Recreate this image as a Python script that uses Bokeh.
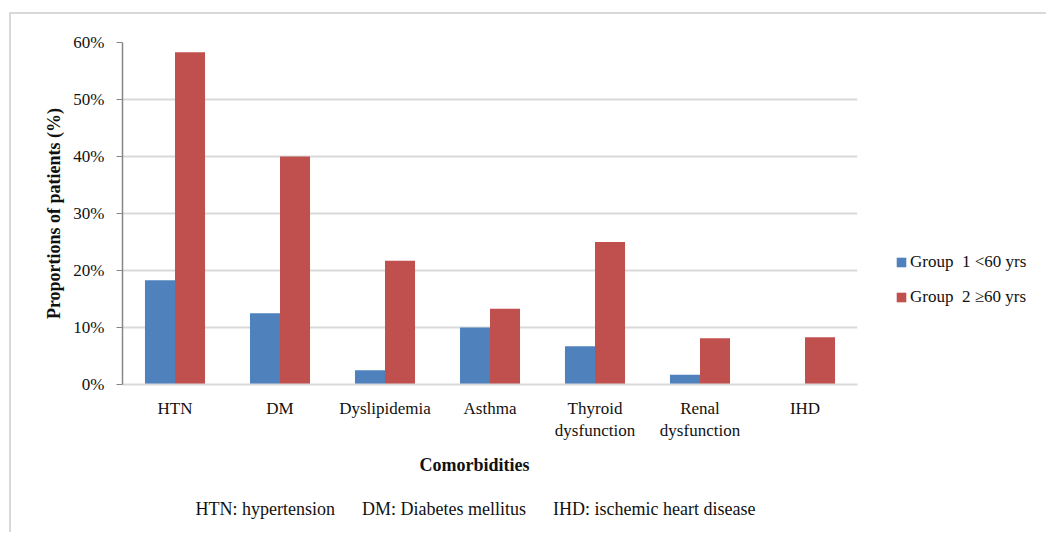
from bokeh.plotting import figure
from bokeh.models import (ColumnDataSource, FactorRange, Legend, LegendItem, Title,
                          NumeralTickFormatter, FixedTicker)
from bokeh.transform import dodge
from bokeh.embed import file_html
from bokeh.resources import INLINE

categories = ["HTN", "DM", "Dyslipidemia", "Asthma", "Thyroid\ndysfunction",
              "Renal\ndysfunction", "IHD"]
group1 = [0.183, 0.125, 0.025, 0.100, 0.067, 0.017, 0.0]
group2 = [0.583, 0.400, 0.217, 0.133, 0.250, 0.081, 0.083]
series_names = ["Group  1 <60 yrs", "Group  2 \u226560 yrs"]
y_ticks = [0, 0.1, 0.2, 0.3, 0.4, 0.5, 0.6]
GAP = "\u00a0" * 6
footnote = "HTN: hypertension" + GAP + "DM: Diabetes mellitus" + GAP + "IHD: ischemic heart disease"
x_title = "Comorbidities"
y_title = "Proportions of patients (%)"

SERIF = "Liberation Serif"
BLUE = "#4F81BD"
RED = "#C0504D"

src = ColumnDataSource(dict(cat=categories, g1=group1, g2=group2))

p = figure(x_range=FactorRange(*categories, range_padding=0), y_range=(0, 0.6),
           width=1030, height=518, output_backend="svg", toolbar_location=None,
           min_border_left=111, min_border_right=184, min_border_top=28,
           min_border_bottom=148)
p.frame_width = 735
p.frame_height = 342
p.outline_line_color = None
p.background_fill_color = "white"
p.border_fill_color = "white"
p.styles = {"margin-left": "9px", "margin-top": "12px",
            "border-top": "2px solid #d9d9d9", "border-left": "2px solid #d9d9d9"}

bw = 0.286
r1 = p.vbar(x=dodge("cat", -bw / 2, range=p.x_range), top="g1", width=bw, source=src,
            fill_color=BLUE, line_color=None)
r2 = p.vbar(x=dodge("cat", bw / 2, range=p.x_range), top="g2", width=bw, source=src,
            fill_color=RED, line_color=None)

# grid
p.xgrid.grid_line_color = None
p.ygrid.grid_line_color = "#d9d9d9"
p.ygrid.grid_line_width = 2
p.yaxis.ticker = FixedTicker(ticks=y_ticks)
p.yaxis.formatter = NumeralTickFormatter(format="0%")

# axes
p.yaxis.axis_line_color = "#868686"
p.yaxis.axis_line_width = 1.5
p.yaxis.major_tick_line_color = "#868686"
p.yaxis.major_tick_out = 6
p.yaxis.major_tick_in = 0
p.yaxis.minor_tick_line_color = None
p.yaxis.major_label_text_font = SERIF
p.yaxis.major_label_text_font_size = "17px"
p.yaxis.major_label_text_color = "#111111"
p.yaxis.major_label_standoff = 12
p.yaxis.axis_label = y_title
p.yaxis.axis_label_text_font = SERIF
p.yaxis.axis_label_text_font_style = "bold"
p.yaxis.axis_label_text_font_size = "18px"
p.yaxis.axis_label_text_color = "#111111"
p.yaxis.axis_label_standoff = 6

p.xaxis.axis_line_color = "#d9d9d9"
p.xaxis.axis_line_width = 2
p.xaxis.major_tick_line_color = None
p.xaxis.minor_tick_line_color = None
p.xaxis.major_label_text_font = SERIF
p.xaxis.major_label_text_font_size = "17px"
p.xaxis.major_label_text_color = "#111111"
p.xaxis.major_label_standoff = 8

# legend
legend = Legend(items=[LegendItem(label=series_names[0], renderers=[r1]),
                       LegendItem(label=series_names[1], renderers=[r2])],
                location=(38, 77), orientation="vertical")
legend.border_line_color = None
legend.background_fill_alpha = 0
legend.padding = 0
legend.margin = 0
legend.spacing = 15
legend.glyph_width = 12
legend.glyph_height = 12
legend.label_height = 20
legend.label_standoff = 3
legend.label_text_font = SERIF
legend.label_text_font_size = "17px"
legend.label_text_color = "#111111"
p.add_layout(legend, "right")

# x title and footnote below the axis
p.add_layout(Title(text=x_title, align="left", text_font=SERIF,
                   text_font_size="18px", text_font_style="bold",
                   text_color="#111111", standoff=19, offset=297), "below")
p.add_layout(Title(text=footnote, align="left", text_font=SERIF,
                   text_font_size="18px", text_font_style="normal",
                   text_color="#111111", standoff=24, offset=73), "below")

open("out.html", "w").write(file_html(p, INLINE))
